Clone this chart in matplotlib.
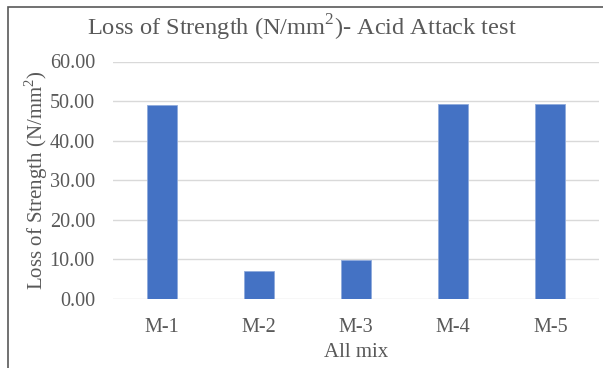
import matplotlib
matplotlib.use('Agg')
import matplotlib.pyplot as plt
from matplotlib.patches import Rectangle
import numpy as np

# Loss of strength after acid attack, per mix
mixes = ['M-1', 'M-2', 'M-3', 'M-4', 'M-5']
loss = [49.0, 7.15, 9.95, 49.2, 49.2]
yticks = [0, 10, 20, 30, 40, 50, 60]

plt.rcParams['font.family'] = 'Liberation Serif'
plt.rcParams['mathtext.fontset'] = 'custom'
plt.rcParams['mathtext.rm'] = 'Liberation Serif'

txt = '#595959'

fig = plt.figure(figsize=(6.03, 3.68), dpi=100)
ax = fig.add_axes([113/603, 69/368, 486/603, 237.5/368])

x = np.arange(len(mixes))
ax.bar(x, loss, width=0.31, color='#4472C4', edgecolor='#8FAADC', linewidth=0.6, zorder=3)

ax.set_xlim(-0.5, len(mixes) - 0.5)
ax.set_ylim(0, 60)
ax.set_yticks(yticks)
ax.set_yticklabels([f'{v:.2f}' for v in yticks])
ax.set_xticks(x)
ax.set_xticklabels(mixes)
ax.tick_params(length=0, labelsize=14.5, colors=txt)
ax.tick_params(axis='x', pad=14)
ax.tick_params(axis='y', pad=13)
ax.grid(axis='y', color='#D9D9D9', linewidth=1, zorder=0)
for s in ax.spines.values():
    s.set_visible(False)

ax.set_xlabel('All mix', fontsize=15, color=txt)
ax.xaxis.set_label_coords(0.5, -0.185)
ax.set_ylabel(r'Loss of Strength (N/mm$^{\mathrm{2}}$)', fontsize=15, color=txt)
ax.yaxis.set_label_coords(-0.13, 0.5)
fig.text(0.5, 0.925, r'Loss of Strength (N/mm$^{\mathrm{2}}$)- Acid Attack test',
         ha='center', va='center', fontsize=17.6, color=txt)

# outer frame of the chart area
fig.add_artist(Rectangle((7.5/603, -0.1), 1.2, 1.1 - 6.5/368, transform=fig.transFigure,
                         fill=False, edgecolor='#595959', linewidth=1.2))

fig.savefig('out.png', dpi=100)
